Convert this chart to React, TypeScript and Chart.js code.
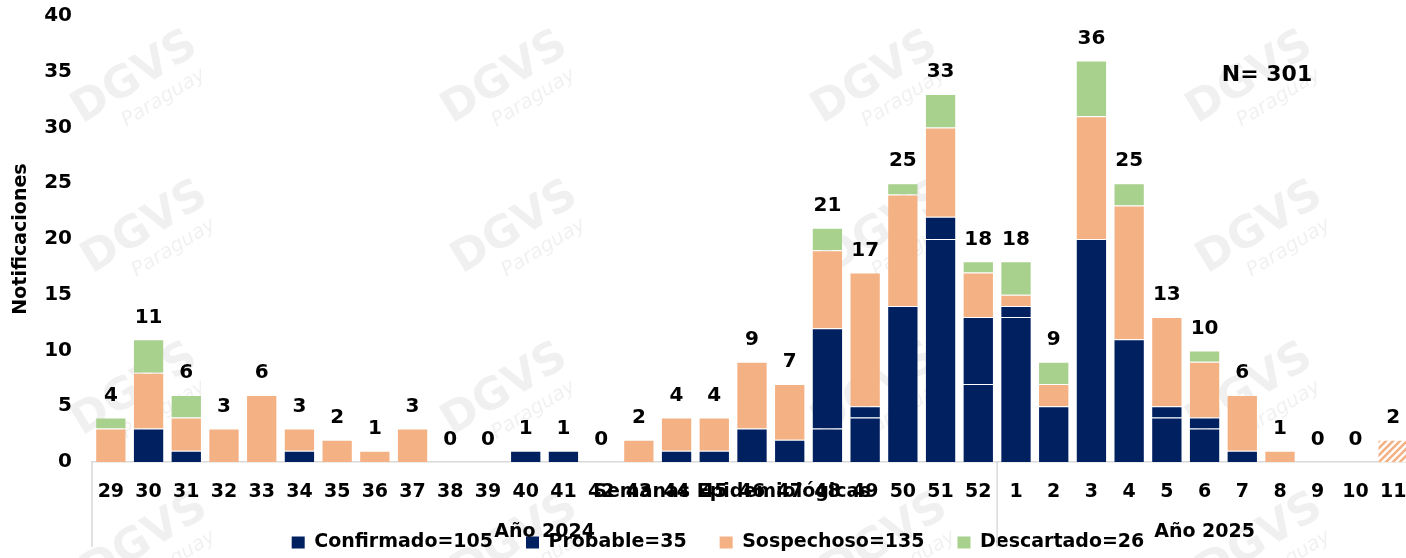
import React, { useEffect, useRef } from "react";
import { Chart, registerables } from "chart.js";

Chart.register(...registerables);

const weeks = [
  "29", "30", "31", "32", "33", "34", "35", "36", "37", "38", "39", "40",
  "41", "42", "43", "44", "45", "46", "47", "48", "49", "50", "51", "52",
  "1", "2", "3", "4", "5", "6", "7", "8", "9", "10", "11",
];
const confirmado = [0, 3, 1, 0, 0, 1, 0, 0, 0, 0, 0, 1, 1, 0, 0, 1, 1, 3, 2, 3, 4, 0, 20, 7, 13, 5, 20, 11, 4, 3, 1, 0, 0, 0, 0];
const probable = [0, 0, 0, 0, 0, 0, 0, 0, 0, 0, 0, 0, 0, 0, 0, 0, 0, 0, 0, 9, 1, 14, 2, 6, 1, 0, 0, 0, 1, 1, 0, 0, 0, 0, 0];
const sospechoso = [3, 5, 3, 3, 6, 2, 2, 1, 3, 0, 0, 0, 0, 0, 2, 3, 3, 6, 5, 7, 12, 10, 8, 4, 1, 2, 11, 12, 8, 5, 5, 1, 0, 0, 2];
const descartado = [1, 3, 2, 0, 0, 0, 0, 0, 0, 0, 0, 0, 0, 0, 0, 0, 0, 0, 0, 2, 0, 1, 3, 1, 3, 2, 5, 2, 0, 1, 0, 0, 0, 0, 0];
const seriesLabels = ["Confirmado=105", "Probable=35", "Sospechoso=135", "Descartado=26"];
const groupLabels = ["Año 2024", "Año 2025"];
const groupSizes = [24, 11];
const hatchedWeeks = ["11"];
const totalText = "N= 301";
const xTitle = "Semanas Epidemiológicas";
const yTitle = "Notificaciones";
const yTicks = [0, 5, 10, 15, 20, 25, 30, 35, 40];

const NAVY = "#002060";
const ORANGE = "#F4B183";
const GREEN = "#A9D18E";
const FONT = "DejaVu Sans";

function makeHatch(color: string): CanvasPattern | string {
  const c = document.createElement("canvas");
  c.width = 7;
  c.height = 7;
  const g = c.getContext("2d");
  if (!g) return color;
  g.fillStyle = "#ffffff";
  g.fillRect(0, 0, 7, 7);
  g.strokeStyle = color;
  g.lineWidth = 2.6;
  g.beginPath();
  g.moveTo(-1, 8);
  g.lineTo(8, -1);
  g.moveTo(-4.5, 4.5);
  g.lineTo(4.5, -4.5);
  g.moveTo(2.5, 11.5);
  g.lineTo(11.5, 2.5);
  g.stroke();
  return g.createPattern(c, "repeat") || color;
}

export default function App() {
  const ref = useRef<HTMLCanvasElement | null>(null);

  useEffect(() => {
    if (!ref.current) return;
    Chart.defaults.font.family = FONT;
    Chart.defaults.color = "#000";
    const hatch = makeHatch(ORANGE);
    const hatchIdx = hatchedWeeks.map((w) => weeks.indexOf(w));

    const overlay = {
      id: "overlay",
      afterLayout(chart: any) {
        if (chart.legend) {
          chart.legend.left += 12;
          chart.legend.right += 12;
        }
      },
      beforeDraw(chart: any) {
        const ctx = chart.ctx;
        ctx.save();
        ctx.fillStyle = "#ffffff";
        ctx.fillRect(0, 0, chart.width, chart.height);
        const xs = [135, 505, 875, 1250];
        const ys = [78, 228, 390, 540];
        ys.forEach((y, r) => {
          xs.forEach((x) => {
            const ox = r % 2 === 1 ? 10 : 0;
            ctx.save();
            ctx.translate(x + ox, y);
            ctx.rotate(-0.55);
            ctx.fillStyle = "rgba(0,0,0,0.06)";
            ctx.font = `bold 44px ${FONT}`;
            ctx.textAlign = "center";
            ctx.textBaseline = "middle";
            ctx.fillText("DGVS", 0, 0);
            ctx.font = `italic 20px ${FONT}`;
            ctx.fillText("Paraguay", 14, 32);
            ctx.restore();
          });
        });
        ctx.restore();
      },
      afterDraw(chart: any) {
        const ctx = chart.ctx;
        const xs = chart.scales.x;
        const ys = chart.scales.y;
        const area = chart.chartArea;
        ctx.save();
        ctx.fillStyle = "#000";
        ctx.font = `bold 20px ${FONT}`;
        ctx.textAlign = "center";
        ctx.textBaseline = "middle";
        weeks.forEach((_, i) => {
          const total = confirmado[i] + probable[i] + sospechoso[i] + descartado[i];
          const x = xs.getPixelForValue(i);
          const y = ys.getPixelForValue(total) - 22;
          ctx.fillText(String(total), x, y);
        });
        ctx.font = `bold 22px ${FONT}`;
        ctx.fillText(totalText, 1267, 75);
        ctx.strokeStyle = "#d9d9d9";
        ctx.lineWidth = 1.5;
        const half = (xs.getPixelForValue(1) - xs.getPixelForValue(0)) / 2;
        let start = 0;
        const bounds: number[] = [area.left];
        groupSizes.forEach((n) => {
          start += n;
          bounds.push(xs.getPixelForValue(start - 1) + half);
        });
        bounds.slice(0, -1).forEach((bx) => {
          ctx.beginPath();
          ctx.moveTo(bx, area.bottom);
          ctx.lineTo(bx, 547);
          ctx.stroke();
        });
        ctx.font = `bold 19px ${FONT}`;
        groupLabels.forEach((g, k) => {
          ctx.fillText(g, (bounds[k] + bounds[k + 1]) / 2, 532);
        });
        ctx.fillText(xTitle, 732, 492);
        ctx.restore();
      },
    };

    const bg = (color: string) => (c: any) =>
      c.type === "data" && hatchIdx.includes(c.dataIndex) ? hatch : color;

    const chart = new Chart(ref.current, {
      type: "bar",
      data: {
        labels: weeks,
        datasets: [
          { label: seriesLabels[0], data: confirmado, backgroundColor: NAVY },
          { label: seriesLabels[1], data: probable, backgroundColor: NAVY },
          { label: seriesLabels[2], data: sospechoso, backgroundColor: bg(ORANGE) as any },
          { label: seriesLabels[3], data: descartado, backgroundColor: GREEN },
        ].map((d) => ({
          ...d,
          borderColor: "rgba(255,255,255,0.25)",
          borderWidth: 1,
          borderSkipped: "start" as const,
          categoryPercentage: 1,
          barPercentage: 0.83,
        })),
      },
      options: {
        responsive: false,
        animation: false,
        layout: { padding: { top: 16, left: 0, right: 0, bottom: 0 } },
        plugins: {
          tooltip: { enabled: false },
          legend: {
            position: "bottom",
            labels: {
              boxWidth: 13,
              boxHeight: 12,
              padding: 33,
              color: "#000",
              font: { size: 19, weight: "bold", family: FONT },
              generateLabels: (c: any) =>
                Chart.defaults.plugins.legend.labels
                  .generateLabels(c)
                  .map((l: any) => ({ ...l, lineWidth: 0 })),
            },
          },
        },
        scales: {
          x: {
            stacked: true,
            grid: { display: false, drawTicks: false },
            border: { display: true, color: "#d9d9d9", width: 1.5 },
            ticks: {
              padding: 18.6,
              color: "#000",
              font: { size: 19, weight: "bold", family: FONT },
              maxRotation: 0,
              autoSkip: false,
            },
            afterFit: (s: any) => {
              s.height = 38;
              s.paddingLeft = 0;
              s.paddingRight = 0;
              s.paddingTop = 0;
              s.paddingBottom = 0;
            },
          },
          y: {
            stacked: true,
            min: 0,
            max: 40,
            grid: { display: false, drawTicks: false },
            border: { display: false },
            afterBuildTicks: (s: any) => {
              s.ticks = yTicks.map((v) => ({ value: v }));
            },
            ticks: {
              padding: 20,
              color: "#000",
              font: { size: 20, weight: "bold", family: FONT },
            },
            title: {
              display: true,
              text: yTitle,
              color: "#000",
              font: { size: 19, weight: "bold", family: FONT },
              padding: { top: 10, bottom: 0 },
            },
            afterFit: (s: any) => {
              s.width = 92;
              s.paddingLeft = 0;
              s.paddingRight = 0;
              s.paddingTop = 0;
              s.paddingBottom = 0;
            },
          },
        },
      },
      plugins: [overlay],
    } as any);

    return () => chart.destroy();
  }, []);

  return (
    <div
      style={{
        position: "fixed",
        left: 0,
        top: 0,
        width: 1406,
        height: 558,
        overflow: "hidden",
        background: "#fff",
      }}
    >
      <canvas ref={ref} width={1412} height={562} style={{ width: 1412, height: 562, display: "block" }} />
    </div>
  );
}
